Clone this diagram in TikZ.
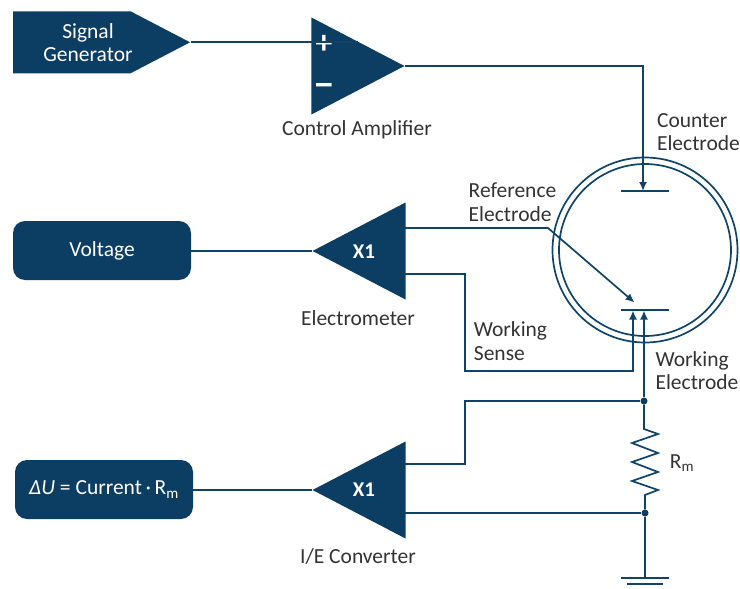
\documentclass[tikz,border=0pt]{standalone}
\usepackage{fontspec}
\setmainfont{Carlito}
\newfontfamily\signfont{Liberation Sans}
\usetikzlibrary{arrows.meta,positioning,shapes.geometric,shapes.symbols}

\definecolor{navy}{HTML}{0C3D62}
\definecolor{wirecol}{HTML}{0F4468}
\definecolor{textcol}{HTML}{333333}

\tikzset{
  wire/.style={draw=wirecol, line width=1.7pt},
  arrowwire/.style={wire, -{Latex[length=9pt,width=8pt]}},
  amp/.style={isosceles triangle, isosceles triangle stretches, shape border rotate=#1,
    fill=navy, inner sep=0pt, minimum width=97pt, minimum height=93pt},
  roundbox/.style={fill=navy, rounded corners=12pt, minimum width=178pt, minimum height=59pt,
    text=white, inner sep=0pt, font=\fontsize{21.5}{25}\selectfont},
  boxtext/.style={text=white, align=center, inner sep=0pt, font=\fontsize{21.5}{23}\selectfont},
  signtext/.style={text=white, inner sep=0pt, font=\signfont\fontsize{31}{33}\selectfont\bfseries},
  gaintext/.style={text=white, inner sep=0pt, font=\fontsize{21}{24}\selectfont\bfseries},
  lbl/.style={text=textcol, align=left, inner sep=0pt, font=\fontsize{21.5}{23.5}\selectfont},
  junction/.style={circle, fill=navy, inner sep=0pt, minimum size=7pt},
}

\begin{document}
\begin{tikzpicture}[x=1pt, y=-1pt]
  \useasboundingbox (0,0) rectangle (740,589);

  % signal generator and control amplifier
  \node [signal, signal to=east, signal from=nowhere, signal pointer angle=55, fill=navy,
    inner sep=0pt, minimum width=177pt, minimum height=62pt, anchor=east] (siggen) at (190.5,42.3) {};
  \node [boxtext] (siggentext) at (88,43) {Signal\\Generator};
  \node [amp=0, anchor=apex] (ctrlamp) at (405,66) {};
  \node [signtext] (plus) at (324,44) {+};
  \node [signtext] (minus) at (324,89) {−};
  \node [lbl] (ctrllabel) at (357,130) {Control Amplifier};

  % voltage readout
  \node [roundbox] (voltage) at (102,250.5) {Voltage};
  \node [amp=180, anchor=apex] (elmeter) at (312,251) {};
  \node [gaintext] (elmetergain) at (364,252) {X1};
  \node [lbl] (elmeterlabel) at (358,318) {Electrometer};

  % current readout
  \node [roundbox] (current) at (104,489.5) {\textit{ΔU} = Current\,·\,R\textsubscript{m}};
  \node [amp=180, anchor=apex] (converter) at (312,490) {};
  \node [gaintext] (convertergain) at (364,490) {X1};
  \node [lbl] (converterlabel) at (358,556) {I/E Converter};

  % cell
  \node [circle, draw=wirecol, line width=1.7pt, inner sep=0pt, minimum size=185pt] (cellouter) at (645,250) {};
  \node [circle, draw=wirecol, line width=1.7pt, inner sep=0pt, minimum size=172pt] (cellinner) at (645,250) {};
  \coordinate (counterplate) at (645,191);
  \coordinate (workplate) at (645,310);
  \draw [wire] ([xshift=-24pt]counterplate) -- ([xshift=24pt]counterplate);
  \draw [wire] ([xshift=-24pt]workplate) -- ([xshift=24pt]workplate);

  \node [lbl] (counterlabel) at (698.5,132) {Counter\\Electrode};
  \node [lbl] (reflabel) at (512.5,202) {Reference\\Electrode};
  \node [lbl] (senselabel) at (510.5,341) {Working\\Sense};
  \node [lbl] (worklabel) at (697,370.5) {Working\\Electrode};

  % helper points on the amplifier sides
  \coordinate (refout) at (405,228);
  \coordinate (senseout) at (405,274);
  \coordinate (convtop) at (405,464);
  \coordinate (convbot) at (405,513);

  \node [junction] (rtop) at (644,401) {};
  \node [junction] (rbot) at (645,513) {};

  % wires
  \draw [wire] (siggen.east) -- (siggen.east -| ctrlamp.left side);
  \draw [arrowwire] (ctrlamp.apex) -| ([xshift=-2pt]counterplate);
  \draw [wire] (voltage.east |- elmeter.apex) -- (elmeter.apex);
  \draw [wire] (current.east |- converter.apex) -- (converter.apex);
  \draw [arrowwire] (refout) -- (548,228) -- (634.5,302.5);
  \draw [arrowwire] (senseout) -| (465,371) -| (633,310.5);
  \draw [arrowwire] (rtop) -- (644,310.5);
  \draw [wire] (convtop) -| (465,401) -- (rtop);
  \draw [wire] (convbot) -- (rbot);

  % measuring resistor
  \draw [wire, line join=miter] (rtop) -- (644,429) -- (658,434) -- (632,443) -- (658,453) -- (632,462)
    -- (658,472) -- (632,481) -- (658,490) -- (645,495) -- (rbot);
  \node [lbl] (rmlabel) at (682,463) {R\textsubscript{m}};

  % ground
  \coordinate (gnd) at (645,578);
  \draw [wire] (rbot) -- (gnd);
  \draw [wire] ([xshift=-24pt]gnd) -- ([xshift=24pt]gnd);
  \draw [wire] ([xshift=-18pt,yshift=-6pt]gnd) -- ([xshift=18pt,yshift=-6pt]gnd);
\end{tikzpicture}
\end{document}
